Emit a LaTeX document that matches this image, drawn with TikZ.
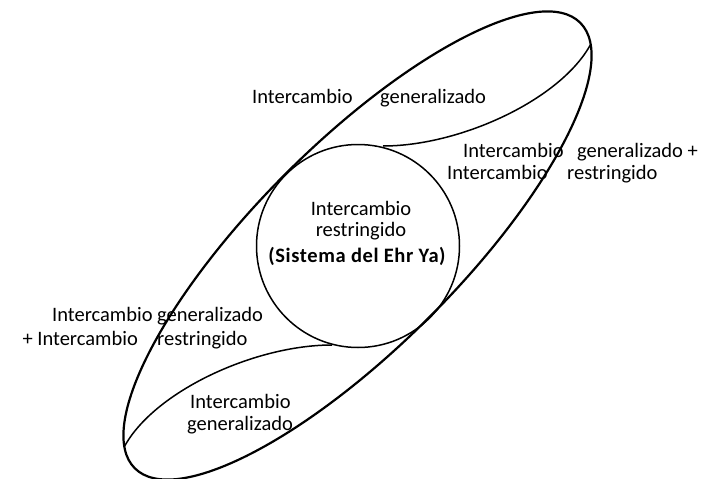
\documentclass[tikz,border=0pt]{standalone}
\usepackage{fontspec}
\setmainfont{Carlito}
\newfontfamily\tagfont[LetterSpace=3]{Carlito}
\begin{document}
\begin{tikzpicture}[x=1pt,y=-1pt,
  lab/.style={font=\fontsize{20.5}{24}\selectfont, inner sep=0pt, anchor=base west},
  labe/.style={font=\fontsize{20.5}{24}\selectfont, inner sep=0pt, anchor=base east},
  ctr/.style={font=\fontsize{20.5}{24}\selectfont, inner sep=0pt, anchor=base},
  oval/.style={line width=2.2pt},
  thinline/.style={line width=1.5pt}]
\useasboundingbox (0,0) rectangle (707,479);
\coordinate (e) at (357.5,245.5);
\draw[oval, rotate around={45:(e)}] (e) ellipse [x radius=315, y radius=101.5];
\node[circle, draw, thinline, minimum size=203pt, inner sep=0pt] (ring) at (358,246) {};
\coordinate (ju) at (590.4,44.8);
\coordinate (jl) at (124.6,446.2);
\coordinate (tu) at (383,146);
\coordinate (tl) at (332,345);
\draw[thinline] (ju) .. controls (560,100) and (460,146) .. (tu);
\draw[thinline] (jl) .. controls (155,391) and (255,345) .. (tl);
% upper label
\node[lab] (u1) at (252,103) {Intercambio};
\node[lab] (u2) at (380,103) {generalizado};
% right label
\node[lab] (r1) at (463,157) {Intercambio};
\node[lab] (r2) at (577,157) {generalizado +};
\node[lab] (r3) at (447,179) {Intercambio};
\node[lab] (r4) at (567,179) {restringido};
% centre
\node[ctr] (c1) at (361,215) {Intercambio};
\node[ctr] (c2) at (361,236) {restringido};
\node[ctr] (c3) at (357,262) {\tagfont\bfseries (Sistema del Ehr Ya)};
% left label
\node[lab] (l1) at (52,321) {Intercambio};
\node[lab] (l2) at (157,321) {generalizado};
\node[labe] (l3) at (138,345) {+ Intercambio};
\node[lab] (l4) at (157,345) {restringido};
% bottom
\node[lab] (b1) at (190,408) {Intercambio};
\node[lab] (b2) at (187,430) {generalizado};
\end{tikzpicture}
\end{document}
